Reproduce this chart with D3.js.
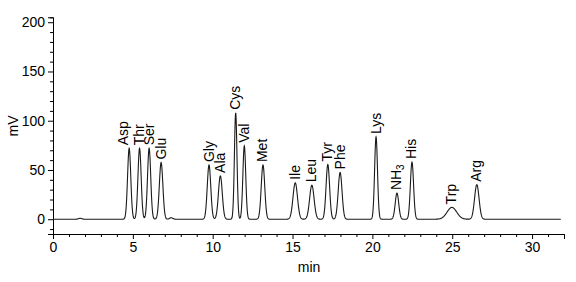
<!DOCTYPE html>
<html><head><meta charset="utf-8">
<script src="https://cdn.jsdelivr.net/npm/d3@7"></script>
<style>body{margin:0;background:#fff}svg{display:block}</style>
</head><body>
<script>
// Peak data
const names   = ["Asp","Thr","Ser","Glu","Gly","Ala","Cys","Val","Met","Ile","Leu","Tyr","Phe","Lys","NH3","His","Trp","Arg"];
const times   = [4.77, 5.42, 6.02, 6.77, 9.77, 10.48, 11.44, 11.98, 13.15, 15.17, 16.21, 17.21, 17.98, 20.23, 21.54, 22.48, 24.98, 26.54];
const heights = [72, 72, 72, 57.5, 55, 44, 108, 74.5, 55, 37, 34.5, 55.5, 47.5, 83.5, 26.5, 58, 12, 35];
const sigmas  = [0.1, 0.1, 0.1, 0.11, 0.11, 0.12, 0.08, 0.09, 0.11, 0.14, 0.14, 0.11, 0.12, 0.09, 0.11, 0.1, 0.3, 0.14];
// small unlabelled bumps
const bumpTimes = [1.7, 7.4];
const bumpHeights = [1, 1.5];
const bumpSigmas = [0.1, 0.1];
const xTicks = [0, 5, 10, 15, 20, 25, 30];
const yTicks = [0, 50, 100, 150, 200];

const W = 576, H = 282;
const FONT = "'Liberation Sans', Arial, sans-serif";
const svg = d3.select("body").append("svg").attr("width", W).attr("height", H)
  .style("font-family", FONT);

const x = d3.scaleLinear().domain([0, 32]).range([53, 564]);
const y = d3.scaleLinear().domain([-15, 205]).range([234, 17.3]);

// Build trace from peaks
const allT = times.concat(bumpTimes), allH = heights.concat(bumpHeights), allS = sigmas.concat(bumpSigmas);
const trace = d3.range(0, 31.8 + 1e-9, 0.01).map(t => {
  let v = 0;
  for (let i = 0; i < allT.length; i++) v += allH[i] * Math.exp(-((t - allT[i]) ** 2) / (2 * allS[i] ** 2));
  return [t, v];
});

// Axes
const xAxis = d3.axisBottom(x).tickValues(xTicks).tickSize(5).tickPadding(3).tickFormat(d3.format("d"));
const xMinor = d3.axisBottom(x).tickValues(d3.range(0, 32, 1).filter(v => v % 5)).tickSize(3).tickFormat("");
const yAxis = d3.axisLeft(y).tickValues(yTicks).tickSize(5).tickPadding(3);
const yMinor = d3.axisLeft(y).tickValues(d3.range(-10, 201, 10).filter(v => v % 50)).tickSize(3).tickFormat("");

function style(g){
  g.select(".domain").attr("stroke", "#000").attr("stroke-width", 1);
  g.selectAll(".tick line").attr("stroke", "#000");
  g.selectAll(".tick text").attr("font-size", 14).attr("fill", "#000").attr("font-family", FONT);
}
svg.append("g").attr("transform", "translate(0,234)").call(xMinor).call(style);
svg.append("g").attr("transform", "translate(0,234)").call(xAxis).call(style);
svg.append("g").attr("transform", "translate(53,0)").call(yMinor).call(style);
svg.append("g").attr("transform", "translate(53,0)").call(yAxis).call(style);

// Trace
svg.append("path").datum(trace)
  .attr("fill", "none").attr("stroke", "#1a1a1a").attr("stroke-width", 1.1)
  .attr("d", d3.line().x(d => x(d[0])).y(d => y(d[1])));

// Peak labels (centred over each peak, rotated)
names.forEach((n, i) => {
  const shift = n === "Asp" ? -6 : 0;
  const px = x(times[i]) + 4.5 + shift, py = y(heights[i]) - 3;
  const t = svg.append("text").attr("transform", `translate(${px},${py}) rotate(-90)`)
    .attr("font-size", 14).attr("fill", "#000");
  if (n === "NH3") {
    t.append("tspan").text("NH");
    t.append("tspan").text("3").attr("font-size", 10).attr("dy", 3);
  } else t.text(n);
});

// Axis titles
svg.append("text").attr("transform", "translate(18,126) rotate(-90)").attr("text-anchor", "middle")
  .attr("font-size", 14).text("mV");
svg.append("text").attr("x", 309).attr("y", 272).attr("text-anchor", "middle")
  .attr("font-size", 14).text("min");
</script>
</body></html>
